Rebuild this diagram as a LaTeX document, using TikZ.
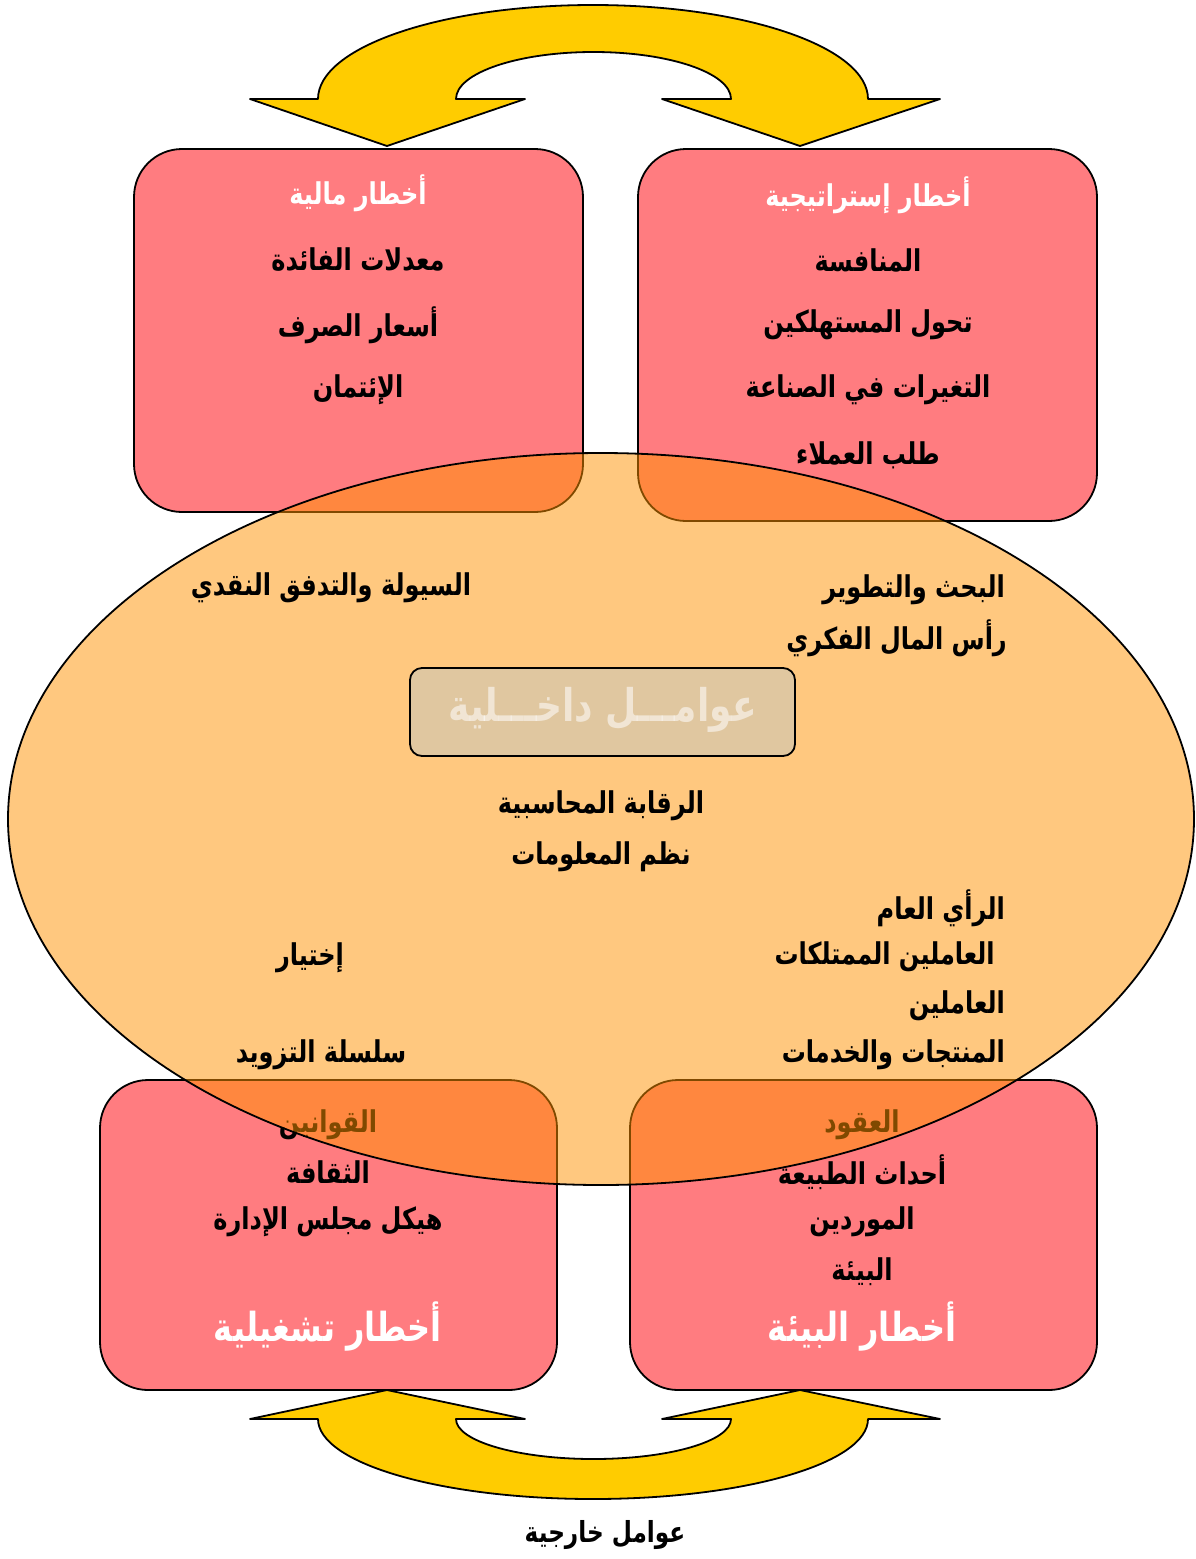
\documentclass[tikz,border=0pt]{standalone}
\usepackage{fontspec}
\usetikzlibrary{shapes.geometric}
\newfontfamily\arfont[Script=Arabic,FakeStretch=0.8]{DejaVu Sans}
\TeXXeTstate=1
\newcommand{\ar}[1]{\beginR #1\endR}
\definecolor{riskpink}{RGB}{255,124,128}
\definecolor{arrowgold}{RGB}{255,204,0}
\definecolor{innerorange}{RGB}{255,147,0}
\definecolor{tagfill}{RGB}{224,199,160}
\tikzset{
  riskbox/.style={draw=black, line width=1.8pt, fill=riskpink, rounded corners=48pt, inner sep=0pt},
  bigarrow/.style={draw=black, line width=1.8pt, fill=arrowgold, line join=round},
  txt/.style={font=\arfont\bfseries\fontsize{30}{34}\selectfont, inner sep=0pt, text=black},
  title/.style={txt, text=white},
  bigtitle/.style={font=\arfont\bfseries\fontsize{40}{46}\selectfont, inner sep=0pt, text=white},
}
\begin{document}
\begin{tikzpicture}[x=1pt,y=-1pt]
\useasboundingbox (0,0) rectangle (1195,1559);
\fill[white] (0,0) rectangle (1195,1559);

% curved arrow at the top
\draw[bigarrow] (250,99) -- (387,146) -- (525,99) -- (456,99)
  .. controls (456,73) and (517.6,52) .. (593.5,52)
  .. controls (669.4,52) and (731,73) .. (731,99)
  -- (662,99) -- (800,146) -- (940,99) -- (868,99)
  .. controls (868,47.1) and (744.9,5) .. (593,5)
  .. controls (441.1,5) and (318,47.1) .. (318,99) -- cycle;

% curved arrow at the bottom
\draw[bigarrow] (250,1419) -- (387,1390) -- (525,1419) -- (456,1419)
  .. controls (456,1441.1) and (517.6,1459) .. (593.5,1459)
  .. controls (669.4,1459) and (731,1441.1) .. (731,1419)
  -- (662,1419) -- (800,1390) -- (940,1419) -- (868,1419)
  .. controls (868,1463.2) and (744.9,1499) .. (593,1499)
  .. controls (441.1,1499) and (318,1463.2) .. (318,1419) -- cycle;

% the four risk boxes
\node[riskbox, minimum width=449pt, minimum height=363pt] (fin) at (358.5,330.5) {};
\node[riskbox, minimum width=459pt, minimum height=372pt] (strat) at (867.5,335) {};
\node[riskbox, minimum width=457pt, minimum height=310pt] (oper) at (328.5,1235) {};
\node[riskbox, minimum width=467pt, minimum height=310pt] (env) at (863.5,1235) {};

% first lines of the lower boxes sit beneath the ellipse
\node[txt] (laws) at (328,1125) {\ar{القوانين}};
\node[txt] (contracts) at (862,1125) {\ar{العقود}};

% internal factors ellipse
\node[ellipse, draw=black, line width=1.8pt, fill=innerorange, fill opacity=0.5,
      minimum width=1186pt, minimum height=732pt, inner sep=0pt] (inner) at (601,819) {};

% financial risks
\node[title] (finT) at (358,193) {\ar{أخطار مالية}};
\node[txt] (fin1) at (358,260) {\ar{معدلات الفائدة}};
\node[txt] (fin2) at (358,325) {\ar{أسعار الصرف}};
\node[txt] (fin3) at (358,390) {\ar{الإئتمان}};

% strategic risks
\node[title] (stratT) at (868,195) {\ar{أخطار إستراتيجية}};
\node[txt] (str1) at (868,260) {\ar{المنافسة}};
\node[txt] (str2) at (868,325) {\ar{تحول المستهلكين}};
\node[txt] (str3) at (868,390) {\ar{التغيرات في الصناعة}};
\node[txt] (str4) at (868,455) {\ar{طلب العملاء}};

% internal factors
\node[txt] (liq) at (331,588) {\ar{السيولة والتدفق النقدي}};
\node[txt, anchor=east] (rd) at (1005,590) {\ar{البحث والتطوير}};
\node[txt, anchor=east] (ic) at (1007,638) {\ar{رأس المال الفكري}};
\node[txt] (acc) at (601,806) {\ar{الرقابة المحاسبية}};
\node[txt] (info) at (601,857) {\ar{نظم المعلومات}};
\node[txt, anchor=east] (pub) at (1005,908) {\ar{الرأي العام}};
\node[txt, anchor=east] (emp1) at (995,957) {\ar{العاملين الممتلكات}};
\node[txt, anchor=east] (emp2) at (1005,1006) {\ar{العاملين}};
\node[txt, anchor=east] (prod) at (1005,1055) {\ar{المنتجات والخدمات}};
\node[txt] (sel) at (310,958) {\ar{إختيار}};
\node[txt] (supply) at (321,1055) {\ar{سلسلة التزويد}};

% operational risks
\node[txt] (op1) at (328,1172) {\ar{الثقافة}};
\node[txt] (op2) at (328,1222) {\ar{هيكل مجلس الإدارة}};
\node[bigtitle] (operT) at (328,1327) {\ar{أخطار تشغيلية}};

% environmental risks
\node[txt] (en1) at (862,1172) {\ar{أحداث الطبيعة}};
\node[txt] (en2) at (862,1222) {\ar{الموردين}};
\node[txt] (en3) at (862,1272) {\ar{البيئة}};
\node[bigtitle] (envT) at (862,1327) {\ar{أخطار البيئة}};

% label of the inner circle
\node[draw=black, line width=1.8pt, fill=tagfill, rounded corners=12pt,
      minimum width=385pt, minimum height=88pt, inner sep=0pt] (tag) at (602.5,712) {};
\node[bigtitle, font=\arfont\bfseries\fontsize{45}{50}\selectfont, text opacity=0.55] (tagT) at (602.5,710) {\ar{عوامـــل داخـــلية}};

% external factors caption
\node[txt, font=\arfont\bfseries\fontsize{29}{33}\selectfont] (ext) at (605,1535) {\ar{عوامل خارجية}};
\end{tikzpicture}
\end{document}
